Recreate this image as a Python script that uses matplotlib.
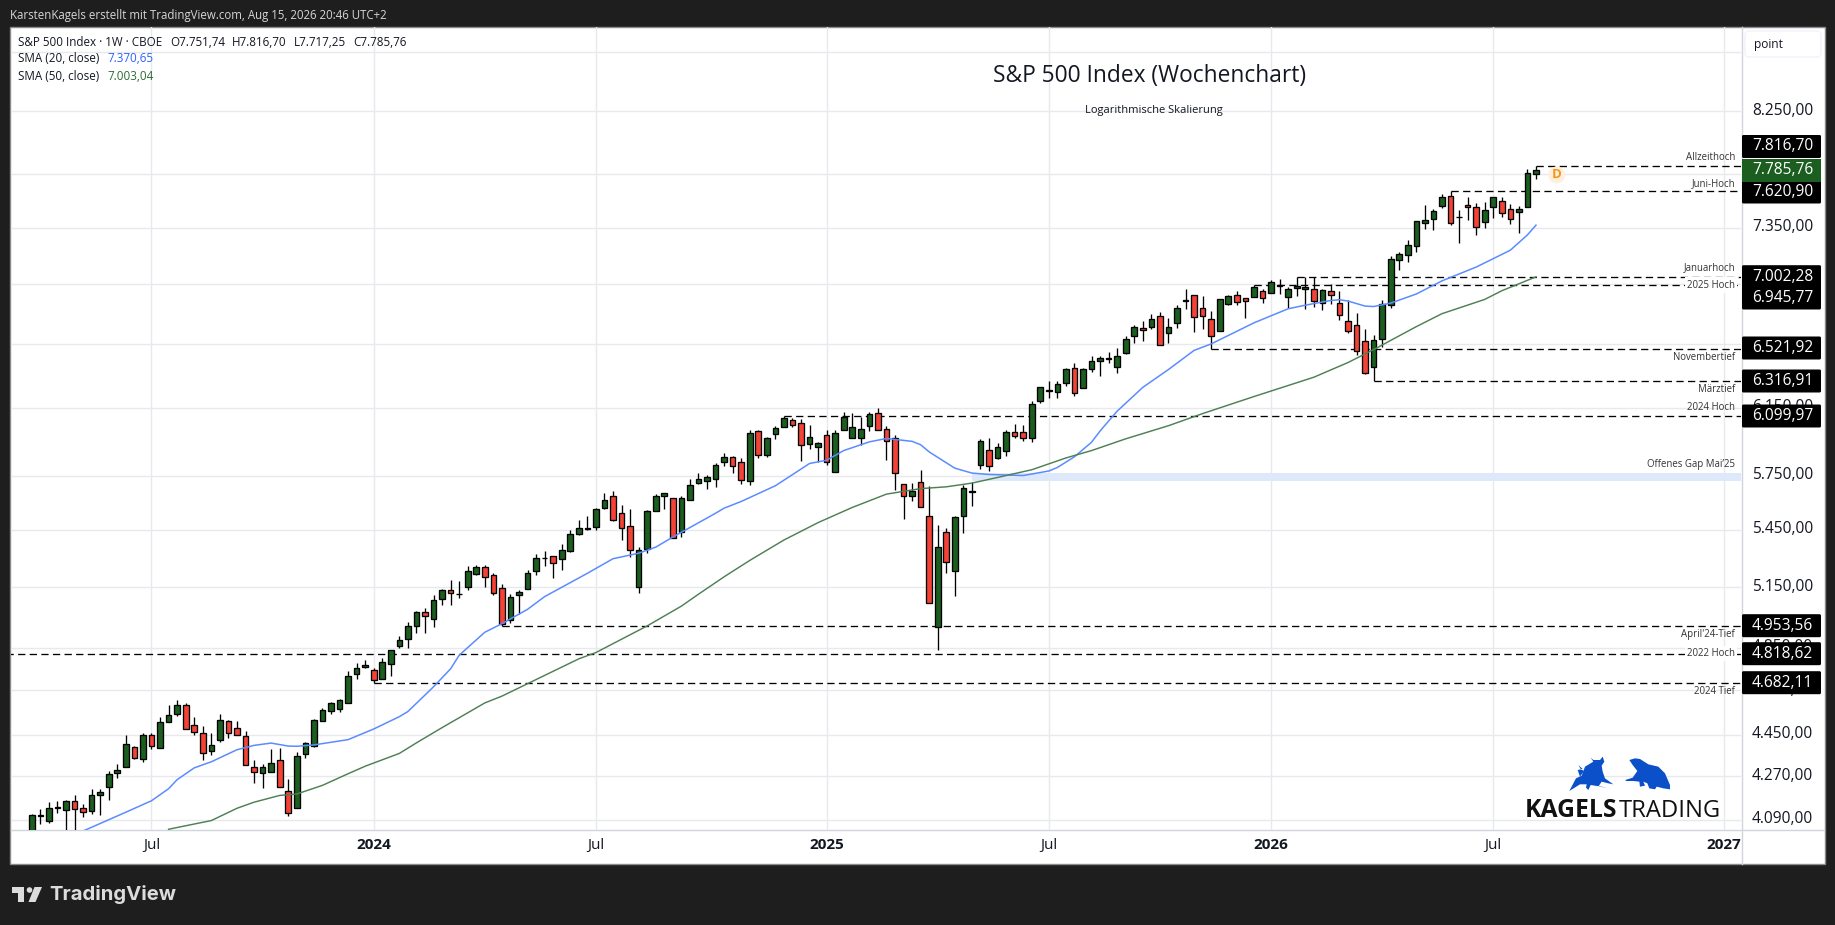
import matplotlib
matplotlib.use("Agg")
import matplotlib.pyplot as plt
import numpy as np
from matplotlib.patches import Polygon, Rectangle, FancyBboxPatch, Circle
from matplotlib.transforms import ScaledTranslation

plt.rcParams['font.family'] = ['Open Sans', 'DejaVu Sans']

first_week = -40  # weeks counted from the first week of January 2024
opens = [4020,4104,4085,4137,4130,4168,4139,4125,4191,4225,4284,4310,4396,4345,4450,4393,4508,4544,4584,4494,
         4459,4379,4428,4512,4481,4445,4310,4285,4289,4341,4209,4139,4367,4402,4512,4557,4566,4593,4727,4760,
         4745,4704,4774,4856,4894,4957,5027,4992,5091,5133,5113,5153,5220,5256,5210,5147,4987,5112,5142,5234,
         5301,5313,5297,5339,5430,5457,5468,5572,5639,5545,5474,5152,5349,5556,5639,5623,5441,5617,5712,5723,
         5734,5827,5856,5832,5723,6009,5873,5991,6038,6080,6062,5937,5919,5985,5773,6015,5967,5967,6044,6122,
         6026,5967,5706,5634,5718,5528,4952,5441,5235,5528,5661,5810,5900,5855,5896,6003,6003,5967,6190,6257,
         6251,6301,6396,6270,6389,6446,6457,6402,6497,6602,6654,6661,6734,6621,6687,6840,6881,6788,6714,6634,
         6814,6875,6861,6862,6903,6889,6943,6862,6923,6917,6917,6821,6903,6821,6701,6674,6575,6402,6588,6807,
         7118,7153,7223,7384,7413,7509,7585,7429,7516,7501,7391,7501,7546,7486,7464,7501,7751.74]
highs = [4115,4135,4162,4169,4172,4190,4155,4215,4215,4292,4323,4450,4402,4459,4459,4530,4581,4607,4593,4530,
         4490,4459,4544,4517,4512,4468,4341,4323,4389,4393,4260,4374,4419,4521,4571,4598,4612,4741,4779,4793,
         4755,4803,4841,4908,4977,5032,5047,5112,5143,5189,5179,5261,5266,5263,5225,5167,5117,5137,5240,5323,
         5339,5313,5376,5449,5506,5525,5572,5656,5667,5584,5567,5360,5561,5645,5651,5623,5634,5734,5769,5755,
         5821,5879,5867,5850,6015,6015,5973,6044,6099.97,6090,6086,6050,5949,6020,6015,6128,6122,6098,6128,6147,
         6044,5985,5706,5712,5786,5695,5479,5458,5528,5701,5718,5961,5967,5943,6015,6056,6050,6190,6282,6314,
         6314,6396,6427,6396,6477,6477,6503,6529,6602,6674,6700,6748,6761,6721,6808,6918,6881,6868,6768,6848,
         6875,6902,6861,6945.77,6917,6978,6985,6930,7002.28,6999,6999,6917,6951,6903,6841,6754,6648,6608,6841,7146,
         7174,7266,7398,7519,7486,7600,7620.9,7479,7577,7531,7541,7577,7577,7524,7509,7789,7816.7]
lows = [4010,4072,4077,4117,4000,4000,4101,4113,4109,4170,4263,4310,4344,4331,4387,4393,4508,4533,4476,4448,
        4339,4361,4419,4435,4448,4319,4240,4221,4289,4226,4105,4139,4348,4397,4512,4542,4551,4593,4701,4752,
        4682.11,4704,4716,4851,4851,4921,4921,4951,5060,5060,5096,5138,5210,5151,5112,4953.56,4972,5016,5142,5212,
        5257,5196,5236,5334,5425,5449,5449,5567,5499,5394,5306,5120,5328,5556,5563,5409,5410,5612,5705,5677,
        5688,5805,5765,5705,5699,5854,5857,5963,6038,6036,5836,5905,5832,5813,5773,6015,5967,5931,6009,6015,
        5844,5671,5510,5606,5578,5071,4840,5222,5105,5434,5582,5792,5775,5849,5867,5967,5955,5949,6178,6209,
        6209,6288,6221,6270,6370,6351,6427,6364,6490,6556,6575,6648,6549,6560,6658,6781,6630,6652,6521.92,6634,
        6808,6808,6725,6862,6825,6889,6887,6791,6871,6785,6798,6778,6814,6712,6625,6479,6361,6316.91,6536,6791,
        7054,7108,7179,7344,7339,7499,7374,7245,7406,7298,7349,7425,7432,7381,7315,7501,7717.25]
closes = [4111,4108,4139,4141,4168,4134,4121,4193,4205,4281,4298,4410,4348,4450,4400,4508,4539,4584,4476,4463,
          4371,4406,4517,4459,4450,4319,4289,4310,4328,4226,4119,4358,4415,4517,4562,4593,4607,4718,4755,4769,
          4699,4784,4841,4889,4957,5027,5007,5086,5138,5122,5115,5235,5256,5204,5122,4967,5102,5127,5224,5302,
          5303,5276,5344,5430,5463,5459,5567,5617,5506,5458,5344,5344,5556,5634,5651,5409,5628,5701,5732,5744,
          5815,5861,5809,5729,5997,5873,5967,6032,6092,6050,5931,5973,5943,5827,5997,6098,6038,6026,6116,6015,
          5955,5769,5639,5667,5578,5071,5360,5281,5522,5684,5663,5955,5804,5914,6003,5979,5967,6172,6276,6259,
          6295,6389,6239,6389,6446,6465,6459,6477,6582,6661,6641,6714,6549,6661,6788,6842,6727,6734,6602,6848,
          6868,6828,6834,6930,6855,6964,6945,6917,6937,6930,6834,6910,6876,6741,6634,6504,6369,6581,6814,7125,
          7160,7230,7398,7406,7472,7577,7384,7431,7501,7354,7479,7577,7457,7413,7486,7758,7785.76]

sma20_weeks = [-34,-29,-26,-24,-23,-21,-19,-16,-14,-12,-10,-9,-7,-3,0,3,4,7,9,10,13,15,18,20,25,28,31,33,35,40,41,43,47,51,53,55,
               58,60,63,64,65,68,70,72,76,79,80,82,84,85,87,90,93,96,98,103,107,109,112,113,114,116,117,119,122,125,129,133,135,136]
sma20_vals = [4045,4121,4168,4218,4256,4306,4332,4384,4403,4413,4400,4399,4405,4428,4475,4530,4553,4666,4750,4814,4925,4967,5038,5102,5221,5297,5326,5358,5412,5541,5569,5606,5694,5821,5840,5896,
              5947,5967,5950,5930,5888,5794,5766,5758,5752,5778,5798,5860,5945,6012,6131,6277,6389,6511,6553,6691,6785,6809,6841,6846,6837,6803,6800,6823,6885,6975,7071,7190,7300,7370.65]
sma50_weeks = [-24,-22,-19,-16,-14,-11,-9,-6,-3,-1,3,5,8,13,15,24,26,32,36,38,41,44,48,52,56,60,64,67,70,73,77,81,84,88,93,97,103,110,114,117,122,125,130,132,136]
sma50_vals = [4052,4066,4087,4137,4162,4190,4196,4232,4281,4313,4368,4414,4481,4592,4623,4797,4827,4956,5054,5114,5203,5288,5396,5490,5573,5647,5678,5688,5709,5741,5785,5853,5896,5965,6043,6116,6220,6340,6433,6516,6666,6752,6848,6907,7003.04]

level_names = ['Allzeithoch','Juni-Hoch','Januarhoch','2025 Hoch','Novembertief','Märztief','2024 Hoch',"April'24-Tief",'2022 Hoch','2024 Tief']
level_vals = [7816.70,7620.90,7002.28,6945.77,6521.92,6316.91,6099.97,4953.56,4818.62,4682.11]
level_text = ['7.816,70','7.620,90','7.002,28','6.945,77','6.521,92','6.316,91','6.099,97','4.953,56','4.818,62','4.682,11']
level_start = [136,126,108,103,98,117,48,15,-43,0]
gap_low, gap_high, gap_start = 5722, 5764, 70

price_ticks = [8750,8250,7750,7350,6950,6550,6150,5750,5450,5150,4850,4650,4450,4270,4090]
price_labels = ['','8.250,00','','7.350,00','','','6.150,00','5.750,00','5.450,00','5.150,00','4.850,00','4.650,00','4.450,00','4.270,00','4.090,00']
time_ticks = [-26,0,26,53,79,105,131,158]
time_labels = ['Jul','2024','Jul','2025','Jul','2026','Jul','2027']
time_bold = [False,True,False,True,False,True,False,True]

W, H = 1835, 925
GREEN, RED = '#1b5e20', '#f44336'
GRID = '#e8e9ee'
INK = '#131722'
fig = plt.figure(figsize=(W/100, H/100), dpi=100, facecolor='#1e1e1e')

back = fig.add_axes([0, 0, 1, 1], zorder=0)
back.set_xlim(0, W); back.set_ylim(H, 0); back.axis('off')
back.add_patch(Rectangle((10, 26.5), 1814.5, 837.5, fc='white', ec='#8a8a8a', lw=1))
back.plot([11, 1824], [829.5, 829.5], color='#d1d4dc', lw=1)
back.plot([1741.5, 1741.5], [27, 864], color='#d1d4dc', lw=1)

L, R, T, B = 11, 1741, 27, 829.5
ax = fig.add_axes([L/W, 1-B/H, (R-L)/W, (B-T)/H], zorder=1)
ax.patch.set_alpha(0)
for s in ax.spines.values():
    s.set_visible(False)
ax.set_yscale('log')
ax.set_xlim(-42.44, 159.99)
ax.set_ylim(4051, 8969)
ax.set_yticks(price_ticks)
ax.set_yticklabels(price_labels, fontsize=11.2, color=INK)
ax.minorticks_off()
ax.yaxis.tick_right()
ax.set_xticks(time_ticks)
ax.set_xticklabels(time_labels, fontsize=11, color=INK)
for lab, b in zip(ax.get_xticklabels(), time_bold):
    if b:
        lab.set_fontweight('bold')
ax.tick_params(axis='y', length=0, pad=8)
ax.tick_params(axis='x', length=0, pad=6)
lift = ScaledTranslation(0, 2.5/100, fig.dpi_scale_trans)
for lab in ax.get_yticklabels():
    lab.set_transform(lab.get_transform() + lift)
ax.grid(True, color=GRID, lw=1)
ax.set_axisbelow(True)

ax.fill_between([gap_start, 159.99], gap_low, gap_high, color='#dde9fb', lw=0, zorder=1)

for i, (o, h, l, c) in enumerate(zip(opens, highs, lows, closes)):
    w = first_week + i
    ax.plot([w, w], [l, h], color='black', lw=0.95, zorder=3, solid_capstyle='butt')
    ax.bar(w, abs(c-o), bottom=min(o, c), width=0.66,
           color=GREEN if c >= o else RED, edgecolor='black', lw=0.95, zorder=4)

ax.plot(sma20_weeks, sma20_vals, color='#5b8cff', lw=1.1, zorder=5)
ax.plot(sma50_weeks, sma50_vals, color='#4f8055', lw=1.05, zorder=5)

for v, s in zip(level_vals, level_start):
    ax.plot([s, 159.99], [v, v], color='black', lw=0.95, ls=(0, (5.5, 3.3)), zorder=2.5)

top = fig.add_axes([0, 0, 1, 1], zorder=5)
top.set_xlim(0, W); top.set_ylim(H, 0); top.axis('off'); top.patch.set_alpha(0)

def txt(x, y, s, size=8.4, color=INK, ha='left', weight='normal', **kw):
    return top.text(x, y, s, fontsize=size, color=color, ha=ha, va='center', fontweight=weight, **kw)

txt(10, 15, 'KarstenKagels erstellt mit TradingView.com, Aug 15, 2026 20:46 UTC+2', 8.3, '#d6d6d6')
txt(18, 42, 'S&P 500 Index · 1W · CBOE')
txt(170, 42, 'O7.751,74'); txt(232, 42, 'H7.816,70'); txt(294, 42, 'L7.717,25'); txt(353, 42, 'C7.785,76')
txt(18, 59, 'SMA (20, close)'); txt(107, 59, '7.370,65', color='#2962ff')
txt(18, 76, 'SMA (50, close)'); txt(107, 76, '7.003,04', color='#2e6b33')
txt(1150, 76.5, 'S&P 500 Index (Wochenchart)', 16.4, ha='center')
txt(1154, 110.5, 'Logarithmische Skalierung', 8.0, ha='center')

top.add_patch(FancyBboxPatch((1747, 33), 72, 22, boxstyle='round,pad=2,rounding_size=4', fc='white', ec='#f0f3fa', lw=1))
txt(1754, 44.5, 'point', 8.6)

label_y = [157.5, 183.5, 268, 285, 357, 389, 407, 634, 653.5, 691.5]
inline = {'2025 Hoch', '2022 Hoch'}
for n, y in zip(level_names, label_y):
    kw = {}
    if n in inline:
        kw['bbox'] = dict(fc='white', ec='none', pad=1.5)
    txt(1735, y, n, 6.9, '#333333', ha='right', **kw)
txt(1735, 465, 'Offenes Gap Mai’25', 6.9, '#333333', ha='right')

box_y = [146.5, 192, 276.7, 298, 348, 381, 416, 625.7, 653.7, 682.7]
for y in box_y:
    top.add_patch(FancyBboxPatch((1743, y-10.5), 77, 21, boxstyle='round,pad=1,rounding_size=1.5', fc='black', ec='none'))
top.add_patch(Rectangle((1742, 159), 79, 23, fc=GREEN, ec='none'))
for y, s in zip(box_y, level_text):
    txt(1752, y, s, 11.2, 'white')
txt(1752, 170, '7.785,76', 11.2, 'white')

top.add_patch(Circle((1556.7, 175), 8.5, fc='#fff0dc', ec='none'))
txt(1556.7, 175, 'D', 9.5, '#f7931e', ha='center', weight='bold')

BLUE = '#0b50c8'
bull = [(28,138),(48,100),(65,92),(75,65),(100,50),(92,38),(100,45),(120,45),(128,35),(133,50),(125,62),(128,80),(135,100),(160,118),(145,115),(125,110),(115,125),(142,128),(92,120),(85,135),(78,128),(80,118),(60,118)]
tail = [(60,95),(53,75),(68,72),(55,60),(62,72),(72,78)]
bear = [(196,105),(218,98),(232,78),(218,60),(208,45),(225,40),(240,42),(265,58),(295,65),(315,85),(330,120),(330,133),(310,130),(290,125),(285,133),(268,130),(262,115),(250,110),(255,122),(240,125),(238,110),(220,108),(198,108)]
for shape in (bull, tail, bear):
    top.add_patch(Polygon([(1560+x/3, 745+y/3) for x, y in shape], closed=True, fc=BLUE, ec='none'))
top.text(1525, 817, 'KAGELS', fontsize=17.8, fontweight='bold', color='#111111', va='baseline')
top.text(1619, 817, 'TRADING', fontsize=17.1, color='#111111', va='baseline')

GREY = '#dcdcdc'
top.add_patch(Polygon([(12,887),(24,887),(24,902),(17.5,902),(17.5,893),(12,893)], fc=GREY, ec='none'))
top.add_patch(Circle((29.5, 890), 2.8, fc=GREY, ec='none'))
top.add_patch(Polygon([(34.5,887),(42,887),(35.5,902),(28.5,902)], fc=GREY, ec='none'))
top.text(49, 895, 'TradingView', fontsize=14.6, color=GREY, va='center', fontweight='bold', family='Inter')

fig.savefig('out.png', dpi=100, facecolor=fig.get_facecolor())
